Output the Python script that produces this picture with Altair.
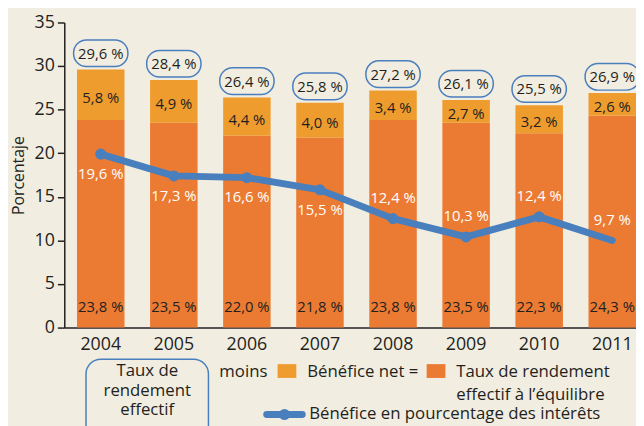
import altair as alt
import pandas as pd

# ---------------- data ----------------
years = ["2004", "2005", "2006", "2007", "2008", "2009", "2010", "2011"]
# Taux de rendement effectif à l'équilibre (bottom segment)
base_rate = [23.8, 23.5, 22.0, 21.8, 23.8, 23.5, 22.3, 24.3]
# Bénéfice net (top segment)
net_profit = [5.8, 4.9, 4.4, 4.0, 3.4, 2.7, 3.2, 2.6]
# Taux de rendement effectif (total)
total_rate = [29.6, 28.4, 26.4, 25.8, 27.2, 26.1, 25.5, 26.9]
# Bénéfice en pourcentage des intérêts (line, as drawn) and its printed labels
profit_pct = [19.9, 17.4, 17.2, 15.8, 12.5, 10.4, 12.7, 10.0]
profit_pct_labels = ["19,6 %", "17,3 %", "16,6 %", "15,5 %", "12,4 %", "10,3 %", "12,4 %", "9,7 %"]
label_side = ["below", "below", "below", "below", "above", "above", "above", "above"]
point_shown = [True, True, True, True, True, True, True, False]

legend_box_lines = ["Taux de", "rendement", "effectif"]
legend_texts = ["moins", "Bénéfice net =", "Taux de rendement", "effectif à l\u2019équilibre",
                "Bénéfice en pourcentage des intérêts"]


def fmt(v):
    return f"{v:.1f} %".replace(".", ",")


df = pd.DataFrame({
    "year": years,
    "base": base_rate,
    "net": net_profit,
    "total": total_rate,
    "pct": profit_pct,
    "pct_lbl": profit_pct_labels,
    "side": label_side,
    "show_pt": point_shown,
})
df["base_lbl"] = [fmt(v) for v in base_rate]
df["net_lbl"] = [fmt(v) for v in net_profit]
df["total_lbl"] = [fmt(v) for v in total_rate]
df["mid"] = (df["base"] + df["total"]) / 2

# ---------------- style ----------------
BG = "#f2ede1"
C_TOP = "#ef9c2f"
C_BASE = "#eb7b32"
BLUE = "#4a7fbd"
DARK = "#231f20"
FONT = "Open Sans"

W, H = 579, 309

x_enc = alt.X("year:N", sort=years,
              scale=alt.Scale(paddingInner=0.35, paddingOuter=0.087, align=1),
              axis=alt.Axis(title=None, labelAngle=0, ticks=False, labelFontSize=18,
                            labelPadding=8, labelColor=DARK, domainColor=DARK,
                            domainWidth=1.5, labelFont=FONT))
y_scale = alt.Scale(domain=[0, 35], nice=False)

base = alt.Chart(df)

bottom_bars = base.mark_bar(color=C_BASE).encode(
    x=x_enc,
    y=alt.Y("base:Q", scale=y_scale,
            axis=alt.Axis(values=list(range(0, 36, 5)), title="Porcentaje", grid=False,
                          tickSize=7, tickColor=DARK, tickWidth=1.5, domainColor=DARK,
                          domainWidth=1.5, labelFontSize=18, labelColor=DARK,
                          labelPadding=3, labelFont=FONT, titleFont=FONT,
                          titleFontSize=16, titleFontWeight="normal", titleColor=DARK,
                          titlePadding=8)),
)

top_bars = base.mark_bar(color=C_TOP).encode(
    x=x_enc,
    y=alt.Y("base:Q", scale=y_scale),
    y2="total:Q",
)

boxes = base.mark_bar(width=55, cornerRadius=13, fill=BG, stroke=BLUE, strokeWidth=1.5,
                      yOffset=-30, y2Offset=-3).encode(
    x=x_enc,
    y=alt.Y("total:Q", scale=y_scale),
    y2="total:Q",
)

total_txt = base.mark_text(fontSize=15, color=DARK, font=FONT, baseline="middle", dy=-16).encode(
    x=x_enc, y=alt.Y("total:Q", scale=y_scale), text="total_lbl:N")

net_txt = base.mark_text(fontSize=15, color=DARK, font=FONT, baseline="middle", dy=3).encode(
    x=x_enc, y=alt.Y("mid:Q", scale=y_scale), text="net_lbl:N")

base_txt = base.mark_text(fontSize=15, color=DARK, font=FONT, baseline="middle", dy=-21).encode(
    x=x_enc, y=alt.Y(datum=0, scale=y_scale), text="base_lbl:N")

line = base.mark_line(color=BLUE, strokeWidth=7, strokeCap="round", strokeJoin="round").encode(
    x=x_enc, y=alt.Y("pct:Q", scale=y_scale))

points = base.transform_filter("datum.show_pt").mark_circle(size=125, color=BLUE, opacity=1).encode(
    x=x_enc, y=alt.Y("pct:Q", scale=y_scale))

pct_below = base.transform_filter("datum.side == 'below'").mark_text(
    fontSize=15, color="white", font=FONT, baseline="middle", dy=20).encode(
    x=x_enc, y=alt.Y("pct:Q", scale=y_scale), text="pct_lbl:N")

pct_above = base.transform_filter("datum.side == 'above'").mark_text(
    fontSize=15, color="white", font=FONT, baseline="middle", dy=-21).encode(
    x=x_enc, y=alt.Y("pct:Q", scale=y_scale), text="pct_lbl:N")

# ---------------- custom legend ----------------
dummy = pd.DataFrame({"k": [0]})


def ltext(txt, x, y, align="left", size=17, line_height=20):
    # y is the centre of the first line; further lines follow below
    return alt.Chart(dummy).mark_text(text=txt, align=align, baseline="middle",
                                      fontSize=size, color=DARK, font=FONT,
                                      lineBreak="\n", lineHeight=line_height).encode(
        x=alt.value(x), y=alt.value(y))


leg_box = alt.Chart(dummy).mark_rect(cornerRadius=15, fillOpacity=0, stroke=BLUE,
                                     strokeWidth=1.5).encode(
    x=alt.value(22), x2=alt.value(146), y=alt.value(341), y2=alt.value(425))

leg_sq_top = alt.Chart(dummy).mark_rect(color=C_TOP).encode(
    x=alt.value(216), x2=alt.value(235), y=alt.value(346), y2=alt.value(360))
leg_sq_base = alt.Chart(dummy).mark_rect(color=C_BASE).encode(
    x=alt.value(367), x2=alt.value(386), y=alt.value(346), y2=alt.value(360))

leg_line = alt.Chart(dummy).mark_rule(color=BLUE, strokeWidth=7, strokeCap="round").encode(
    x=alt.value(205), x2=alt.value(241), y=alt.value(397))
leg_dot = alt.Chart(dummy).mark_circle(size=125, color=BLUE, opacity=1).encode(
    x=alt.value(223), y=alt.value(397))

legend_layers = [
    leg_box,
    ltext("\n".join(legend_box_lines), 84, 353, align="center", line_height=20),
    ltext(legend_texts[0], 157, 354),
    leg_sq_top,
    ltext(legend_texts[1], 246, 354),
    leg_sq_base,
    ltext(legend_texts[2] + "\n" + legend_texts[3], 397, 354, line_height=23),
    leg_line,
    leg_dot,
    ltext(legend_texts[4], 248, 397),
]

chart = alt.layer(
    bottom_bars, top_bars, boxes, total_txt, net_txt, base_txt,
    line, points, pct_below, pct_above, *legend_layers
).properties(
    width=W, height=H,
    autosize=alt.AutoSizeParams(type="none"),
    padding={"left": 57, "top": 12, "right": 0, "bottom": 97},
    background=BG,
).configure_view(stroke=None)

chart.save("out.html", embed_options={"renderer": "svg", "actions": False})
